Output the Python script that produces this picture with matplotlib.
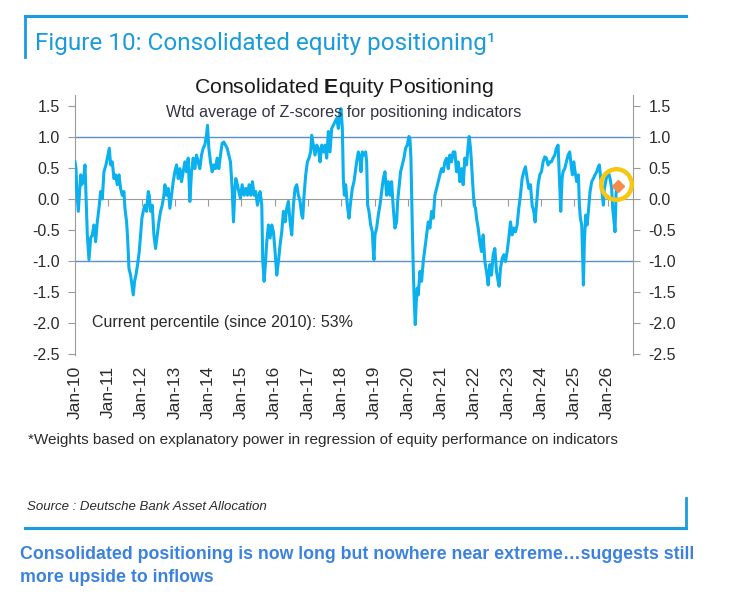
import matplotlib.pyplot as plt
from matplotlib.lines import Line2D

# weekly-ish read of the consolidated z-score, dates as decimal years
dates = [
    2010.00, 2010.03, 2010.05, 2010.10, 2010.13, 2010.17, 2010.20, 2010.25, 2010.30, 2010.33,
    2010.37, 2010.42, 2010.47, 2010.52, 2010.57, 2010.62, 2010.67, 2010.73, 2010.77, 2010.82,
    2010.87, 2010.93, 2010.97, 2011.03, 2011.07, 2011.12, 2011.17, 2011.22, 2011.27, 2011.32,
    2011.37, 2011.42, 2011.47, 2011.50, 2011.55, 2011.58, 2011.62, 2011.67, 2011.71, 2011.75,
    2011.79, 2011.83, 2011.88, 2011.93, 2011.97, 2012.01, 2012.05, 2012.10, 2012.15, 2012.20,
    2012.23, 2012.27, 2012.32, 2012.37, 2012.42, 2012.47, 2012.52, 2012.57, 2012.62, 2012.67,
    2012.70, 2012.75, 2012.80, 2012.85, 2012.90, 2012.95, 2013.00, 2013.05, 2013.10, 2013.15,
    2013.20, 2013.25, 2013.30, 2013.35, 2013.40, 2013.45, 2013.50, 2013.55, 2013.60, 2013.65,
    2013.70, 2013.75, 2013.80, 2013.85, 2013.90, 2013.95, 2013.98, 2014.02, 2014.07, 2014.12,
    2014.17, 2014.22, 2014.27, 2014.32, 2014.37, 2014.42, 2014.47, 2014.52, 2014.57, 2014.62,
    2014.67, 2014.72, 2014.76, 2014.80, 2014.83, 2014.88, 2014.92, 2014.97, 2015.02, 2015.08,
    2015.13, 2015.18, 2015.23, 2015.28, 2015.33, 2015.38, 2015.43, 2015.48, 2015.53, 2015.56,
    2015.61, 2015.64, 2015.68, 2015.71, 2015.76, 2015.81, 2015.86, 2015.91, 2015.96, 2016.01,
    2016.06, 2016.11, 2016.16, 2016.21, 2016.26, 2016.31, 2016.36, 2016.41, 2016.46, 2016.51,
    2016.56, 2016.61, 2016.66, 2016.71, 2016.76, 2016.81, 2016.84, 2016.88, 2016.93, 2016.98,
    2017.03, 2017.08, 2017.11, 2017.16, 2017.21, 2017.26, 2017.31, 2017.36, 2017.41, 2017.46,
    2017.51, 2017.56, 2017.61, 2017.66, 2017.71, 2017.76, 2017.81, 2017.86, 2017.91, 2017.96,
    2017.99, 2018.03, 2018.06, 2018.09, 2018.13, 2018.18, 2018.23, 2018.28, 2018.33, 2018.38,
    2018.46, 2018.51, 2018.56, 2018.59, 2018.63, 2018.68, 2018.73, 2018.76, 2018.79, 2018.83,
    2018.88, 2018.93, 2018.96, 2018.98, 2019.01, 2019.06, 2019.11, 2019.16, 2019.21, 2019.26,
    2019.31, 2019.36, 2019.41, 2019.46, 2019.51, 2019.56, 2019.61, 2019.66, 2019.69, 2019.73,
    2019.78, 2019.83, 2019.88, 2019.93, 2019.98, 2020.03, 2020.06, 2020.09, 2020.13, 2020.16,
    2020.19, 2020.22, 2020.25, 2020.28, 2020.31, 2020.36, 2020.41, 2020.46, 2020.51, 2020.56,
    2020.61, 2020.66, 2020.71, 2020.76, 2020.81, 2020.86, 2020.91, 2020.96, 2021.01, 2021.06,
    2021.11, 2021.16, 2021.21, 2021.26, 2021.31, 2021.36, 2021.41, 2021.46, 2021.51, 2021.56,
    2021.61, 2021.66, 2021.71, 2021.76, 2021.81, 2021.84, 2021.88, 2021.92, 2021.96, 2021.99,
    2022.03, 2022.06, 2022.11, 2022.16, 2022.21, 2022.26, 2022.31, 2022.36, 2022.41, 2022.46,
    2022.51, 2022.56, 2022.61, 2022.66, 2022.71, 2022.74, 2022.78, 2022.83, 2022.88, 2022.93,
    2022.98, 2023.03, 2023.08, 2023.13, 2023.18, 2023.23, 2023.28, 2023.33, 2023.38, 2023.43,
    2023.48, 2023.53, 2023.58, 2023.63, 2023.68, 2023.73, 2023.78, 2023.82, 2023.86, 2023.91,
    2023.96, 2024.01, 2024.06, 2024.11, 2024.16, 2024.21, 2024.26, 2024.31, 2024.36, 2024.41,
    2024.46, 2024.51, 2024.53, 2024.56, 2024.59, 2024.63, 2024.66, 2024.71, 2024.76, 2024.81,
    2024.86, 2024.89, 2024.94, 2024.98, 2025.02, 2025.07, 2025.12, 2025.15, 2025.18, 2025.22,
    2025.25, 2025.27, 2025.30, 2025.34, 2025.38, 2025.42, 2025.47, 2025.52, 2025.57, 2025.62,
    2025.67, 2025.72, 2025.75, 2025.79, 2025.84, 2025.87, 2025.90, 2025.94, 2025.98, 2026.02,
    2026.07, 2026.12, 2026.15, 2026.19, 2026.22, 2026.25, 2026.27,
]
zscores = [
    0.60, 0.49, 0.17, -0.20, 0.06, 0.39, 0.23, 0.28, 0.55, 0.06,
    -0.58, -0.98, -0.63, -0.58, -0.42, -0.69, -0.37, -0.10, 0.12, 0.00,
    0.44, 0.55, 0.66, 0.82, 0.55, 0.60, 0.33, 0.39, 0.23, 0.39,
    0.17, 0.06, 0.12, -0.15, -0.37, -0.63, -1.12, -1.23, -1.39, -1.55,
    -1.33, -1.23, -1.06, -0.85, -0.58, -0.31, -0.20, -0.10, -0.20, 0.12,
    0.06, -0.20, -0.10, -0.58, -0.80, -0.58, -0.37, -0.20, -0.10, 0.06,
    0.23, 0.06, 0.17, -0.15, 0.06, 0.28, 0.44, 0.55, 0.33, 0.49,
    0.28, 0.44, 0.60, 0.44, 0.66, -0.04, 0.44, 0.66, 0.49, 0.71,
    0.60, 0.49, 0.71, 0.82, 0.87, 1.03, 1.19, 0.82, 0.60, 0.44,
    0.55, 0.49, 0.66, 0.49, 0.71, 0.90, 0.92, 0.87, 0.82, 0.71,
    0.60, 0.17, -0.37, 0.12, 0.33, 0.23, 0.12, 0.01, 0.23, 0.06,
    0.17, 0.06, 0.23, 0.06, 0.28, 0.06, 0.12, -0.10, 0.06, 0.12,
    -0.10, -1.01, -1.33, -1.12, -0.69, -0.42, -0.63, -0.42, -0.53, -0.85,
    -1.23, -1.01, -0.74, -0.53, -0.20, -0.37, -0.15, -0.04, -0.37, -0.58,
    -0.10, 0.17, 0.23, 0.06, -0.04, -0.26, -0.31, 0.06, 0.39, 0.60,
    0.66, 0.77, 1.03, 0.87, 0.71, 0.87, 0.82, 0.60, 0.87, 0.76,
    0.87, 0.66, 1.09, 0.76, 1.14, 1.19, 1.25, 1.30, 1.14, 1.41,
    1.46, 1.14, 0.33, 0.06, 0.23, -0.10, -0.31, -0.04, 0.17, 0.28,
    0.60, 0.76, 0.66, 0.44, 0.76, 0.71, 0.76, 0.60, -0.10, -0.20,
    -0.42, -0.53, -0.85, -0.98, -0.58, -0.47, -0.26, -0.10, 0.12, 0.33,
    0.44, 0.06, 0.28, 0.06, 0.28, -0.15, -0.47, -0.37, -0.04, 0.17,
    0.44, 0.55, 0.66, 0.82, 0.87, 1.01, 0.98, 0.66, -0.42, -1.12,
    -1.66, -2.03, -1.66, -1.44, -1.55, -1.17, -1.33, -1.01, -0.80, -0.58,
    -0.37, -0.47, -0.20, -0.31, 0.06, 0.17, 0.28, 0.39, 0.49, 0.44,
    0.60, 0.66, 0.49, 0.71, 0.60, 0.76, 0.76, 0.44, 0.60, 0.28,
    0.49, 0.23, 0.66, 0.55, 0.87, 1.01, 0.82, 0.49, 0.12, -0.10,
    -0.15, -0.31, -0.47, -0.69, -0.85, -0.58, -1.01, -1.17, -1.39, -1.06,
    -1.23, -0.90, -0.80, -1.17, -1.33, -1.41, -1.12, -0.96, -0.90, -1.01,
    -0.85, -0.63, -0.37, -0.58, -0.47, -0.53, -0.42, -0.15, 0.06, 0.33,
    0.44, 0.52, 0.33, 0.17, 0.23, -0.10, -0.20, -0.37, -0.10, 0.23,
    0.39, 0.44, 0.60, 0.68, 0.66, 0.55, 0.60, 0.60, 0.66, 0.71,
    0.82, 0.87, 0.60, 0.17, -0.20, 0.33, 0.44, 0.49, 0.60, 0.71,
    0.76, 0.60, 0.39, 0.60, 0.44, 0.28, 0.39, -0.10, -0.31, -0.42,
    -0.96, -1.39, -0.69, -0.26, -0.42, -0.20, 0.12, 0.28, 0.33, 0.39,
    0.44, 0.52, 0.55, 0.33, 0.06, -0.10, 0.17, 0.28, 0.39, 0.44,
    0.33, 0.17, -0.15, -0.37, -0.53, 0.06, 0.23,
]
current_date = 2026.30
current_value = 0.215

year_ticks = list(range(2010, 2027))
year_labels = ['Jan-%02d' % (y % 100) for y in year_ticks]
y_ticks = [1.5, 1.0, 0.5, 0.0, -0.5, -1.0, -1.5, -2.0, -2.5]

LINE_BLUE = '#0bb0ee'
FRAME_BLUE = '#1a9cdc'
REF_BLUE = '#5b8fd0'
TEXT = '#2b2b2b'
NARROW = ['Liberation Sans Narrow', 'Liberation Sans']

plt.rcParams['font.family'] = 'Liberation Sans'
plt.rcParams['mathtext.fontset'] = 'custom'
plt.rcParams['mathtext.rm'] = 'Liberation Sans'
plt.rcParams['mathtext.bf'] = 'Liberation Sans:bold'

fig = plt.figure(figsize=(7.44, 5.94), dpi=100)
ax = fig.add_axes([0.1008, 0.4024, 0.75, 0.4377])

ax.axhline(1.0, color=REF_BLUE, lw=1.0, zorder=1)
ax.axhline(-1.0, color=REF_BLUE, lw=1.0, zorder=1)
ax.plot(dates, zscores, color=LINE_BLUE, lw=2.2, solid_joinstyle='round', zorder=3)
ax.plot([current_date], [current_value], marker='D', ms=6, color='#f58a4c',
        ls='none', zorder=5)
# yellow highlight ring round the latest reading
ax.plot([2026.24], [0.25], marker='o', ms=22, mfc='none', mec='#f7c713', mew=3.2,
        ls='none', zorder=6, clip_on=False)

ax.set_xlim(2010, 2026.76)
ax.set_ylim(-2.52, 1.68)

# x axis sits on the zero line, labels go underneath the plot
ax.spines['bottom'].set_position(('data', 0))
ax.spines['bottom'].set_color('#9a9a9a')
ax.spines['top'].set_visible(False)
for side in ['left', 'right']:
    ax.spines[side].set_color('#9a9a9a')
ax.set_xticks(year_ticks)
ax.tick_params(axis='x', direction='out', length=5, color='#9a9a9a', labelbottom=False)

sec = ax.secondary_xaxis('bottom')
sec.set_xticks(year_ticks)
sec.set_xticklabels(year_labels, rotation=90, fontsize=12.5, color=TEXT, family=NARROW)
sec.tick_params(length=0, pad=8)
sec.spines['bottom'].set_visible(False)

ax.set_yticks(y_ticks)
ax.set_yticklabels(['%.1f' % v for v in y_ticks])
ax.tick_params(axis='y', which='both', direction='out', length=5, color='#9a9a9a',
               labelsize=11.5, labelcolor=TEXT, right=True, labelright=True, pad=6)

ax.text(2010.5, -2.0, 'Current percentile (since 2010): 53%', fontsize=11.5,
        color=TEXT, va='center')

fig.text(0.4624, 0.852, r'Consolidated $\mathbf{E}$quity Positioning', fontsize=15.3,
         ha='center', va='center', color='#1a1a1a')
fig.text(0.4624, 0.811, 'Wtd average of Z-scores for positioning indicators',
         fontsize=11.6, ha='center', va='center', color='#333344')

fig.text(0.047, 0.927, 'Figure 10: Consolidated equity positioning\u00b9', fontsize=17.5,
         family='Roboto', color=FRAME_BLUE, va='center')

fig.text(0.038, 0.259,
         '*Weights based on explanatory power in regression of equity performance on indicators',
         fontsize=11, family=NARROW, color=TEXT, va='center')
fig.text(0.036, 0.146, 'Source : Deutsche Bank Asset Allocation', fontsize=9.5,
         family=NARROW, style='italic', color=TEXT, va='center')

fig.text(0.027, 0.066,
         'Consolidated positioning is now long but nowhere near extreme\u2026suggests still',
         fontsize=12.8, weight='bold', color='#3b82e0', va='center')
fig.text(0.027, 0.027, 'more upside to inflows', fontsize=12.8, weight='bold',
         color='#3b82e0', va='center')

# report frame: top rule with left stub, bottom rule with right stub
fig.add_artist(Line2D([0.034, 0.922], [0.973, 0.973], color=FRAME_BLUE, lw=2.2))
fig.add_artist(Line2D([0.034, 0.034], [0.973, 0.904], color=FRAME_BLUE, lw=2.0))
fig.add_artist(Line2D([0.034, 0.922], [0.111, 0.111], color=FRAME_BLUE, lw=2.2))
fig.add_artist(Line2D([0.922, 0.922], [0.111, 0.162], color=FRAME_BLUE, lw=2.0))

fig.savefig('out.png', dpi=100)
